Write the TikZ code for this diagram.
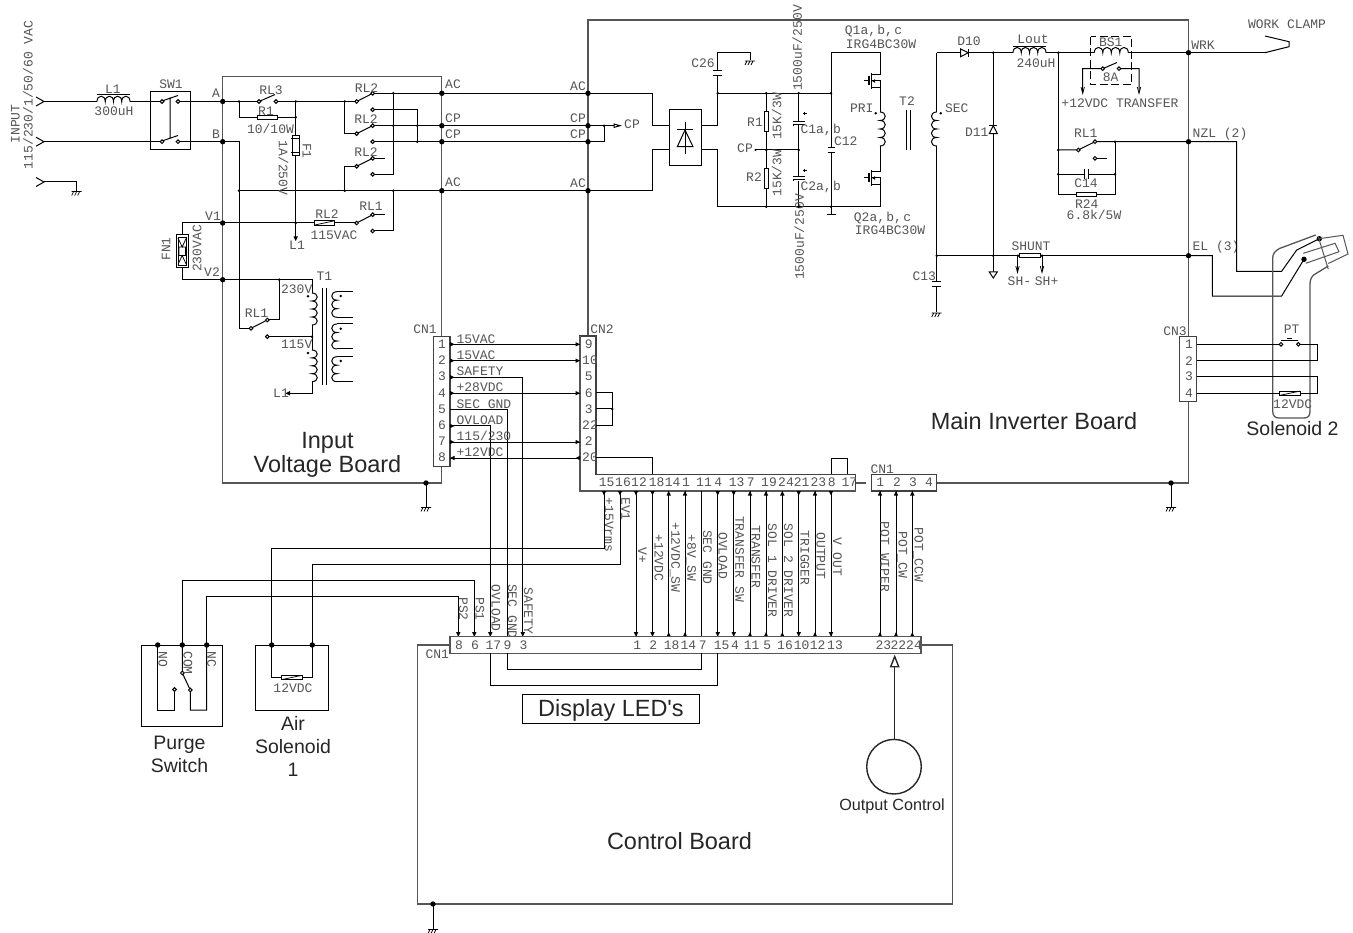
\documentclass[tikz,border=0pt]{standalone}
\usepackage{fontspec}
\setmainfont{Liberation Sans}
\newfontfamily\schfont{Liberation Mono}
\newfontfamily\plainsans{Liberation Sans}
\definecolor{frm}{HTML}{555555}
\definecolor{txt}{HTML}{555555}
\newcounter{lb}
\tikzset{
 wire/.style={line width=1pt,black},
 frame/.style={line width=1.3pt,frm},
 thin wire/.style={line width=0.75pt,black},
 sch/.style={inner sep=0pt,outer sep=0pt,text=txt,font=\schfont\fontsize{13}{13}\selectfont},
 big/.style={inner sep=0pt,outer sep=0pt,text=black!85,align=center,font=\plainsans\fontsize{23.5}{24.5}\selectfont},
 mid/.style={inner sep=0pt,outer sep=0pt,text=black!85,align=center,font=\plainsans\fontsize{19.5}{23}\selectfont},
 cnbox/.style={line width=1.1pt,draw=black!75,fill=white},
}
\newcommand\cm{,\kern-6.5pt\ }
\newcommand\lbl[3][]{\stepcounter{lb}\node[sch,#1] (lab\thelb) at (#2) {#3};}
\newcommand\bigt[3][big]{\stepcounter{lb}\node[#1] (lab\thelb) at (#2) {#3};}
\newcommand\jb[2]{\fill (#1,#2) circle[radius=2.7pt];}
\newcommand\js[2]{\fill (#1,#2) circle[radius=1.4pt];}
\newcommand\ct[2]{\draw[wire,fill=white] (#1,#2) circle[radius=1.8pt];}
\newcommand\gnd[2]{\draw[thin wire] (#1-5,#2)--(#1+5,#2) (#1-3,#2)--(#1-5,#2+4) (#1,#2)--(#1-2,#2+4) (#1+3,#2)--(#1+1,#2+4);}
\newcommand\ahd[2]{\fill (#1,#2)--(#1-2.2,#2-4.5)--(#1+2.2,#2-4.5)--cycle;}
\newcommand\ahu[2]{\fill (#1,#2)--(#1-2.2,#2+4.5)--(#1+2.2,#2+4.5)--cycle;}
\newcommand\ahr[2]{\fill (#1,#2)--(#1-4.5,#2-2.2)--(#1-4.5,#2+2.2)--cycle;}
\newcommand\ahl[2]{\fill (#1,#2)--(#1+4.5,#2-2.2)--(#1+4.5,#2+2.2)--cycle;}
\newcommand\hcoil[4]{\draw[wire] (#1,#2) foreach \i in {1,...,#3} { .. controls +(0,-7) and +(0,-7) .. ++(#4,0) };}
\newcommand\vcoilr[4]{\draw[wire] (#1,#2) foreach \i in {1,...,#3} { .. controls +(7,0) and +(7,0) .. ++(0,#4) };}
\newcommand\vcoill[4]{\draw[wire] (#1,#2) foreach \i in {1,...,#3} { .. controls +(-7,0) and +(-7,0) .. ++(0,#4) };}
\newcommand\hres[3]{\draw[wire,fill=white] (#1,#3-2.2) rectangle (#2,#3+2.2);}
\newcommand\hsol[3]{\draw[wire,fill=white] (#1,#3-2.2) rectangle (#2,#3+2.2); \draw[thin wire] (#1,#3+2.2)--(#2,#3-2.2);}
\newcommand\vres[3]{\draw[wire,fill=white] (#1-2.2,#2) rectangle (#1+2.2,#3);}
\newcommand\sigd[1]{\draw[wire] (#1,491)--(#1,636.7); \ahd{#1}{495.5} \ahd{#1}{636.7}}
\newcommand\sigu[1]{\draw[wire] (#1,491)--(#1,636.7); \ahu{#1}{491} \ahu{#1}{632.2}}
\newcommand\plug[2]{\draw[wire] (#1-8,#2-4.5)--(#1,#2)--(#1-8,#2+4.5);}
\newcommand\mosfet[4]{%
 \draw[wire] (864.3,#1)--(869,#1) (871.7,#2)--(880,#2) (871.7,#3)--(880,#3) (871.7,#1)--(880,#1)--(880,#3);
 \draw[line width=1.2pt] (869,#1-4.5)--(869,#1+4.5) (871.7,#1-8)--(871.7,#1+8);
 \fill (872,#1)--(875,#1-1.8)--(875,#1+1.8)--cycle;}
\begin{document}
\begin{tikzpicture}[x=1pt,y=-1pt]
\useasboundingbox (0,0) rectangle (1353,933);
\coordinate (A) at (222.7,101.5);
\coordinate (B) at (222.7,141.7);
\coordinate (V1) at (222.7,223);
\coordinate (V2) at (222.7,279.7);
\coordinate (ACt) at (652.7,93.3);
\coordinate (ACb) at (652.7,190.7);
\coordinate (WRK) at (1188.5,52.7);
\coordinate (NZL) at (1188.5,141.7);
\coordinate (EL) at (1188.5,255.7);

%% --- board frames
\draw[frame] (441.8,336)--(441.8,76.5)--(222.7,76.5)--(222.7,483)--(441.8,483)--(441.8,466);
\draw[frame] (588,336)--(588,20)--(1188.5,20)--(1188.5,336);
\draw[frame] (1188.5,401)--(1188.5,483)--(936,483);
\draw[frame] (450,645)--(417.3,645)--(417.3,904)--(952.7,904)--(952.7,645)--(921,645);
\draw[frame] (855.7,483)--(866,483);

%% --- input
\plug{44}{101.5} \plug{44}{141.7} \plug{44}{182}
\draw[wire] (44,101.5)--(97,101.5) (130,101.5)--(162,101.5) (178,101.5)--(A);
\draw[wire] (44,141.7)--(162,141.7) (178,141.7)--(B);
\draw[wire] (44,182)--(76.7,182)--(76.7,191);
\gnd{76.7}{191.5}
\hcoil{97}{101.5}{4}{8.25}
\draw[wire] (97,95)--(130,95);
\lbl{113,89}{L1} \lbl{114,111}{300uH}
\draw[wire] (150,91.5) rectangle (190.3,150);
\lbl{171,84}{SW1}
\draw[wire] (162,101)--(178,95.5) (162,141)--(178,135.5) (170,97.5)--(170,138);
\ct{162}{101.5} \ct{178}{101.5} \ct{162}{141.7} \ct{178}{141.7}
\lbl[rotate=90]{15.5,124}{INPUT}
\lbl[rotate=90]{28,95}{115/230/1/50/60 VAC}

%% --- input voltage board
\draw[wire] (A)--(259,101.5) (276,101.5)--(356.7,101.5);
\draw[wire] (239,101.5)--(239,117.3)--(295.7,117.3);
\draw[wire] (295.7,101.5)--(295.7,240);
\ahd{295.7}{241}
\draw[wire] (B)--(239,141.7)--(239,328.3)--(251,328.3);
\draw[wire] (239,190.7)--(ACb);
\draw[wire] (344.7,101.5)--(344.7,133.7)--(356.7,133.7);
\draw[wire] (344.7,190.7)--(344.7,166.3)--(356.7,166.3);
\draw[wire] (372.7,93.3)--(ACt);
\draw[wire] (372.7,125.7)--(611.7,125.7);
\draw[wire] (372.7,141.7)--(604,141.7)--(604,125.7);
\draw[wire] (372.7,109.7)--(417.3,109.7)--(417.3,141.7);
\draw[wire] (393.3,93.3)--(393.3,174.3)--(372.7,174.3);
\draw[wire] (372.7,158.3)--(385,158.3) (372.7,214.7)--(385,214.7);
\draw[wire] (V1)--(356.7,223);
\draw[wire] (372.7,231)--(393.3,231)--(393.3,190.7);
\draw[wire] (356.7,101.5)--(372.7,93.3) (356.7,133.7)--(372.7,125.7) (356.7,166.3)--(372.7,158.3) (356.7,223)--(372.7,214.7);
\draw[wire] (259,101.5)--(275,94.5);
\hres{257.3}{277.7}{117.3}
\hsol{314}{334.3}{223}
\draw[wire,fill=white] (292,136) rectangle (299.5,156);
\draw[wire] (291,139)--(300,139) (291,153)--(300,153);
\foreach \x/\y in {259/101.5,276/101.5,356.7/101.5,372.7/93.3,372.7/109.7,356.7/133.7,372.7/125.7,372.7/141.7,356.7/166.3,372.7/158.3,372.7/174.3,356.7/223,372.7/214.7,372.7/231}{\ct{\x}{\y}}
\foreach \x/\y in {239/101.5,295.7/101.5,344.7/101.5,295.7/117.3,393.3/93.3,393.3/125.7,417.3/125.7,417.3/141.7,239/190.7,344.7/190.7,393.3/190.7,295.7/223}{\js{\x}{\y}}
\foreach \x/\y in {222.7/101.5,222.7/141.7,222.7/223,222.7/279.7,441.8/93.3,441.8/125.7,441.8/141.7,441.8/190.7,588/93.3,588/125.7,588/141.7,588/190.7,426/483,1171/483}{\jb{\x}{\y}}
\lbl{216,93}{A} \lbl{216,134}{B} \lbl{213,216}{V1} \lbl{212,272}{V2}
\lbl{271,90}{RL3} \lbl{266,111}{R1} \lbl{270.5,129}{10/10W}
\lbl{366.5,88}{RL2} \lbl{366,119}{RL2} \lbl{366,152}{RL2}
\lbl{327,214}{RL2} \lbl{334,235}{115VAC} \lbl{371,206}{RL1}
\lbl{297,245}{L1}
\lbl[rotate=-90]{307,151}{F1}
\lbl[rotate=-90]{283.5,168}{1A/250V}
\foreach \y/\t in {84.7/AC,118/CP,134/CP,182/AC}{\lbl{453,\y}{\t}}
\foreach \y/\t in {86/AC,118/CP,134/CP,183/AC}{\lbl{578,\y}{\t}}
\draw[wire] (ACt)--(652.7,125.7)--(669,125.7);
\draw[wire] (ACb)--(652.7,149.7)--(669,149.7);
\js{604}{125.7}
\draw[wire] (611.7,125.7)--(618,125.7);
\draw[wire,fill=white] (620,125.7)--(614,124)--(614,127.4)--cycle;
\lbl{632,124}{CP}

% fan
\draw[wire] (V1)--(182.7,223)--(182.7,235) (182.7,267.7)--(182.7,279.7)--(V2);
\draw[wire,fill=white] (176,235) rectangle (188.3,267.7);
\draw[thin wire] (178,237) rectangle (186.3,265.7);
\draw[thin wire] (178,238)--(182.2,247)--(186.3,238) (178,264.5)--(182.2,255.5)--(186.3,264.5) (179,247) rectangle (185.5,255.5);
\lbl[rotate=90]{166,249}{FN1}
\lbl[rotate=90]{197,248.5}{230VAC}

% T1
\draw[wire] (V2)--(312,279.7)--(312,293);
\draw[wire] (279.3,279.7)--(279.3,320)--(267.3,320);
\draw[wire] (251,328.3)--(267.3,320);
\draw[wire] (267.3,336.7)--(312,336.7);
\vcoilr{312}{293}{4}{8}
\draw[wire] (312,325)--(312,350);
\vcoilr{312}{350}{4}{7.9}
\draw[wire] (312,381.6)--(312,393.3)--(290,393.3);
\ahl{285.5}{393.3}
\js{279.3}{279.7} \js{312}{336.7}
\js{308}{296.3} \js{308}{353}
\ct{251}{328.3} \ct{267.3}{320} \ct{267.3}{336.7}
\draw[wire] (322.3,288.3)--(322.3,385) (326,288.3)--(326,385);
\foreach \t/\b in {291.7/317.3,324/349,356.7/381.7}{
 \draw[wire] (352.7,\t)--(337,\t);
 \draw[wire] (352.7,\b)--(337,\b);
 \draw[wire] (337,\t) .. controls +(-7,0) and +(-7,0) .. ++(0,8.5) .. controls +(-7,0) and +(-7,0) .. ++(0,8.5) .. controls +(-7,0) and +(-7,0) .. (337,\b);
}
\js{340.7}{296} \js{340.7}{328.7} \js{340.7}{361}
\lbl{324.3,276}{T1} \lbl{296.7,289.3}{230V} \lbl{296.7,344}{115V} \lbl{256.5,313}{RL1} \lbl{281,393}{L1}
\draw[wire] (426,483)--(426,507);
\gnd{426}{507.5}
\bigt{327.5,455}{Input\\Voltage Board}

%% --- inverter primary
\draw[wire,fill=white] (669,109.3) rectangle (701.3,166);
\draw[wire] (685,122)--(685,154) (677.3,130)--(693,130);
\draw[wire] (685,130)--(677.3,146.7)--(693,146.7)--cycle;
\draw[wire] (701.3,125.7)--(717.7,125.7)--(717.7,93.3);
\draw[wire] (701.3,149.7)--(717.7,149.7)--(717.7,206.7)--(880,206.7);
\draw[wire] (717.7,93.3)--(831,93.3);
\draw[wire] (717.7,93.3)--(717.7,75.3) (717.7,70.7)--(717.7,52.3)--(750,52.3)--(750,60.5);
\draw[wire] (713.3,70.7)--(722,70.7) (713.3,75.3)--(722,75.3);
\gnd{750}{61}
\lbl{703,63}{C26}
% R1 R2
\draw[wire] (766.3,93.3)--(766.3,206.7);
\vres{766.3}{111.7}{131.7}
\vres{766.3}{168.3}{188.3}
\draw[wire] (755.5,150)--(798.7,150);
\fill (755.5,150) circle[radius=1.2pt];
\lbl{745,148}{CP} \lbl{755,122}{R1} \lbl{754,177}{R2}
\lbl[rotate=90]{776.7,116.5}{15K/3W} \lbl[rotate=90]{776.7,173}{15K/3W}
% C1 C2
\draw[wire] (798.7,93.3)--(798.7,122) (798.7,125)--(798.7,176.7) (798.7,180.7)--(798.7,206.7);
\draw[wire] (793.3,122)--(805,122) (793.3,126)--(793.3,124.3)--(805,124.3);
\draw[wire] (793.3,176.7)--(805,176.7) (793.3,181)--(793.3,179.7)--(805,179.7);
\draw[thin wire] (803,113.5)--(806.5,113.5) (804.7,112)--(804.7,115) (803,170.5)--(806.5,170.5) (804.7,169)--(804.7,172);
\lbl{820.7,130}{C1a\cm b} \lbl{820.7,187}{C2a\cm b}
\lbl[rotate=90]{797.3,48}{1500uF/250V}
\lbl[rotate=90]{799.3,237}{1500uF/250V}
% C12
\draw[wire] (831,52.3)--(831,147.3) (831,152.7)--(831,215);
\draw[wire] (827.5,147.3)--(835,147.3) (827.5,152.7)--(835,152.7) (827,215)--(835.5,215);
\draw[wire] (831,52.3)--(880,52.3)--(880,75);
\lbl{845.7,141}{C12}
\mosfet{81}{75}{87.5}{}
\mosfet{178}{172}{184.5}{}
\draw[wire] (880,87.5)--(880,112);
\vcoilr{880}{112}{4}{8.5}
\draw[wire] (880,146)--(880,172);
\draw[wire] (880,184.5)--(880,206.7);
\js{875.7}{113.3}
\foreach \x/\y in {717.7/93.3,766.3/93.3,798.7/93.3,831/93.3,766.3/150,798.7/150,766.3/206.7,798.7/206.7,831/206.7}{\js{\x}{\y}}
\lbl{873.5,31}{Q1a\cm b\cm c} \lbl{881,44}{IRG4BC30W}
\lbl{882.5,218}{Q2a\cm b\cm c} \lbl{890,230}{IRG4BC30W}
\lbl{861.7,108.7}{PRI}
\lbl{907,101}{T2}
\draw[wire] (906,110)--(906,150) (910,110)--(910,150);

%% --- secondary
\draw[wire] (936.7,52.7)--(960.7,52.7) (968.3,52.7)--(1013,52.7) (1046,52.7)--(1094.3,52.7) (1128.3,52.7)--(1265,52.7);
\hcoil{1013}{52.7}{4}{8.25}
\draw[wire] (1013,46.7)--(1046,46.7);
\hcoil{1094.3}{52.7}{4}{8.5}
\draw[wire,fill=white] (960.7,49)--(960.7,56.7)--(968.3,52.7)--cycle;
\draw[wire] (968.3,48.7)--(968.3,56.9);
\draw[wire] (936.7,52.7)--(936.7,112);
\vcoill{936.7}{112}{4}{8.5}
\draw[wire] (936.7,146)--(936.7,281.7) (936.7,286.3)--(936.7,312);
\draw[wire] (932.3,281.7)--(941,281.7) (932.3,286.3)--(941,286.3);
\gnd{936.7}{313}
\js{940.7}{113.3}
\draw[wire] (993.3,52.7)--(993.3,272);
\draw[wire] (989.3,125.7)--(997.3,125.7);
\draw[wire,fill=white] (993.3,125.7)--(989.3,133.7)--(997.3,133.7)--cycle;
\draw[wire,fill=white] (989.3,272)--(997.3,272)--(993.3,278)--cycle;
\draw[wire] (936.7,255.7)--(1018,255.7) (1042,255.7)--(EL);
\hres{1019.3}{1040}{255.7}
\draw[wire] (1017.5,255.7)--(1017.5,270) (1042,255.7)--(1042,270);
\draw[thin wire] (1015.8,266)--(1017.5,272.5)--(1019.2,266) (1040.3,266)--(1042,272.5)--(1043.7,266);
\js{936.7}{255.7} \js{993.3}{255.7} \js{1018}{255.7} \js{1042}{255.7}
\js{993.3}{52.7}
\lbl{969,41}{D10} \lbl{1033,39}{Lout} \lbl{1036,63}{240uH} \lbl{1110.7,42.7}{BS1} \lbl{1110.7,77}{8A}
\lbl{1120,103.7}{+12VDC TRANSFER}
\lbl{956.7,108.7}{SEC} \lbl{976.7,132}{D11} \lbl{924.3,276}{C13}
\lbl{1031,246}{SHUNT} \lbl{1033,281}{SH-\kern-4pt\ SH+}
\draw[wire,dash pattern=on 8pt off 3.5pt] (1090.7,36.7) rectangle (1131.3,85);
\draw[wire] (1082.7,91)--(1082.7,68.7)--(1102.7,68.7) (1102.7,68.7)--(1117,62.5) (1119,68.7)--(1139,68.7)--(1139,91);
\draw[thin wire] (1081,87)--(1082.7,93.5)--(1084.4,87) (1137.3,87)--(1139,93.5)--(1140.7,87);
\ct{1102.7}{68.7} \ct{1119}{68.7}
\draw[wire] (1058.3,52.7)--(1058.3,194.7)--(1076,194.7) (1096.7,194.7)--(1115,194.7)--(1115,141.7);
\hres{1076}{1096.7}{194.7}
\draw[wire] (1058.3,150)--(1078.3,150)--(1095,141.7) (1095,141.7)--(NZL);
\draw[wire] (1095,158.3)--(1106.7,158.3);
\draw[wire] (1058.3,174.3)--(1084.3,174.3) (1088.3,174.3)--(1115,174.3);
\draw[wire] (1084.3,169.5)--(1084.3,179) (1088.3,169.5)--(1088.3,179);
\ct{1078.3}{150} \ct{1095}{141.7} \ct{1095}{158.3}
\js{1058.3}{52.7} \js{1058.3}{150} \js{1058.3}{174.3} \js{1115}{141.7} \js{1115}{174.3}
\lbl{1085.7,133}{RL1} \lbl{1086,183}{C14} \lbl{1086.7,204}{R24} \lbl{1094,215}{6.8k/5W}
\lbl{1203,45}{WRK} \lbl{1220,134}{NZL (2)} \lbl{1216,247}{EL (3)}
\lbl{1287,24}{WORK CLAMP}
\draw[wire] (1265,52.7)--(1289,46.7)--(1289,41.7)--(1265,36);
\jb{1188.5}{52.7} \jb{1188.5}{141.7} \jb{1188.5}{255.7}
\draw[wire] (NZL)--(1236.7,141.7)--(1236.7,271.5)--(1281.5,271.5)--(1296.7,250)--(1319.3,238.7);
\draw[wire] (EL)--(1212.3,255.7)--(1212.3,296.2)--(1281.5,296.2)--(1304,259.3);
\jb{1319.3}{238.7} \jb{1304}{259.3}

%% --- torch
\draw[frame] (1315.7,235)--(1280,248.3) .. controls (1275,250.5) and (1272.7,254) .. (1272.7,258)--(1272.7,411) .. controls (1272.7,416) and (1275,418) .. (1279,418)--(1304,418) .. controls (1308,418) and (1310,416) .. (1310,411)--(1310,284) .. controls (1310,279) and (1312,275.5) .. (1316,273.5)--(1328.3,266);
\draw[frame,line width=1pt] (1319.3,238.7)--(1343,235.3)--(1348,254)--(1328.3,263.5);
\draw[frame,line width=1pt] (1318,236)--(1328.3,269.3);
\draw[frame,line width=1pt] (1303.3,253.3)--(1335,243.3)--(1339,251.7)--(1305.7,263.3);

%% --- CN3 and PT
\draw[cnbox] (1179.3,336.7) rectangle (1196.7,401.3);
\foreach \y/\t in {344/1,360.7/2,376.3/3,393/4}{\lbl{1189,\y}{\t}}
\lbl{1175,331}{CN3}
\draw[wire] (1196.7,344.3)--(1281,344.3) (1298.3,344.3)--(1317.3,344.3)--(1317.3,361)--(1196.7,361);
\draw[wire] (1196.7,377)--(1317.3,377)--(1317.3,393.3)--(1300,393.3) (1279,393.3)--(1196.7,393.3);
\draw[wire] (1281,340.5)--(1298.3,340.5);
\draw[line width=1.4pt] (1287,338.8)--(1292.3,338.8);
\ct{1281}{344.3} \ct{1298.3}{344.3}
\hsol{1279}{1300}{393.3}
\lbl{1291.7,329}{PT} \lbl{1292.7,404}{12VDC}
\bigt[mid]{1292.5,429}{Solenoid 2}
\bigt{1034,421}{Main Inverter Board}
\js{1171}{483}
\draw[wire] (1171,483)--(1171,507);
\gnd{1171}{507.5}

%% --- CN1 (left) and CN2
\draw[cnbox] (433.3,336.7) rectangle (450,466.7);
\draw[cnbox] (580,336)--(596,336)--(596,474.3)--(855.7,474.3)--(855.7,491)--(580,491)--cycle;
\draw[frame] (580,336)--(580,491)--(855.7,491);
\draw[cnbox] (871.7,474.3) rectangle (936.7,491);
\lbl{425,329}{CN1} \lbl{602,329}{CN2}
\lbl{882.3,469}{CN1}
\foreach \y/\t in {344/1,360/2,376.3/3,393/4,409/5,425.7/6,441.5/7,457.7/8}{\lbl{442,\y}{\t}}
\foreach \y/\t in {344/9,376.3/5,393/6,409/3,441.5/2}{\lbl{588.7,\y}{\t}}
\foreach \y/\t in {360/10,425.5/22,457.5/20}{\lbl{590,\y}{\t}}
\foreach \y in {344.3,360.7,393.2,442}{\draw[wire] (450,\y)--(580,\y); \ahr{454.5}{\y} \ahr{580}{\y}}
\draw[wire] (450,458)--(580,458); \ahl{450}{458} \ahl{575.5}{458}
\draw[wire] (450,377.3)--(522.7,377.3)--(522.7,636.7); \ahr{454.5}{377.3}
\draw[wire] (450,409.3)--(507,409.3)--(507,636.7);
\draw[wire] (450,426)--(490.3,426)--(490.3,636.7); \ahr{454.5}{426}
\ahd{522.7}{636.7} \ahd{490.3}{636.7}
\lbl{476,339}{15VAC} \lbl{476,355}{15VAC} \lbl{480,371}{SAFETY} \lbl{480,387}{+28VDC}
\lbl{484,404}{SEC GND} \lbl{480,420}{OVLOAD} \lbl{484,436}{115/230} \lbl{480,452}{+12VDC}
\draw[wire] (596,393)--(612.3,393)--(612.3,426)--(596,426) (596,409)--(612.3,409);
\js{612.3}{409}
\draw[wire] (596,457.5)--(652.7,457.5)--(652.7,474.3);
\draw[wire] (831,474.3)--(831,458.3)--(847.3,458.3)--(847.3,474.3);
\foreach \x/\t in {606.7/15,623/16,639/12,656.7/18,672.7/14,686/1,704/11,718.3/4,736.7/13,750.7/7,769/19,786/24,801.7/21,818.3/23,831.7/8,849.3/17,880.3/1,897/2,913/3,929/4}{\lbl{\x,482.5}{\t}}

%% --- signals
\foreach \x in {636,652.5,717.7,733.7,798.7,831}{\sigd{\x}}
\foreach \x in {668.7,685,750,766,782.3,815}{\sigu{\x}}
\draw[wire] (701,491)--(701,636.7);
\foreach \x in {880,896,912.3}{\sigu{\x}}
\foreach \x/\y/\t in {642.3/555.7/V+,659/558/+12VDC,675/557.5/+12VDC\_SW,691/558/+8V\_SW,707.3/557.5/SEC GND,723/555.7/OVLOAD,739.7/559/TRANSFER SW,756/557/TRANSFER,772.3/570.7/SOL 1 DRIVER,788.3/570.7/SOL 2 DRIVER,805/558/TRIGGER,821/556/OUTPUT,836.7/556.7/V\_OUT,885/557/POT WIPER,902.3/555/POT\_CW,918.3/555/POT\_CCW,609/525/+15Vrms,625.7/509/EV1,463.3/609/PS2,480/609/PS1,496/608.3/OVLOAD,512.3/611.5/SEC GND,528.3/611/SAFETY}{\lbl[rotate=-90]{\x,\y}{\t}}

%% --- control connector
\draw[wire] (604,491)--(604,548)--(271.7,548)--(271.7,645);
\draw[wire] (620,491)--(620,564)--(312.3,564)--(312.3,645);
\ahd{604}{495.5} \ahd{620}{495.5}
\draw[wire] (182.3,645)--(182.3,580)--(474.3,580)--(474.3,636.7); \ahd{474.3}{636.7}
\draw[wire] (206.7,645)--(206.7,596)--(458.3,596)--(458.3,636.7); \ahd{458.3}{636.7}
\draw[line width=1.2pt,draw=frm,fill=white] (450,636.7) rectangle (921,653.3);
\foreach \x/\t in {459/8,475/6,493.3/17,507.6/9,523.6/3,637.3/1,653.3/2,671.7/18,688.3/14,702.7/7,721.7/15,735/4,751.7/11,767.3/5,785/16,801.7/10,817.7/12,835/13,883.3/23,898.3/22,914/24}{\lbl{\x,644.8}{\t}}
\lbl{437.3,654}{CN1}
\draw[wire] (490.3,653.3)--(490.3,685.7)--(717.7,685.7)--(717.7,653.3);
\draw[wire] (507,653.3)--(507,669)--(701,669)--(701,653.3);
\draw[wire,fill=white] (522.3,694.3) rectangle (699.5,723);
\bigt{611,710.5}{Display LED's}
\bigt{679.5,841}{Control Board}

\draw[line width=1.4pt,black!85] (894.3,739.4)--(894.3,667);
\draw[line width=1.4pt,black!85,fill=white] (894.7,656.5)--(890.7,666.7)--(898.7,666.7)--cycle;
\draw[line width=1.4pt,black!85] (894,766.7) circle[radius=27.3pt];
\stepcounter{lb}\node[inner sep=0pt,text=black!85,font=\plainsans\fontsize{16.2}{18}\selectfont] (lab\thelb) at (892,806) {Output Control};
\draw[wire] (433,904)--(433,929);
\jb{433}{904}
\gnd{433}{929.5}

%% --- purge switch
\draw[wire] (141.7,645) rectangle (222.7,726);
\draw[wire] (157.7,645)--(157.7,710)--(174.5,710)--(174.5,691);
\draw[wire] (182.3,645)--(182.3,673)--(190.3,690)--(190.3,710)--(206.7,710)--(206.7,645);
\ct{182.3}{673} \ct{190.3}{690} \ct{174.5}{689.5}
\jb{157.7}{645} \jb{182.3}{645} \jb{206.7}{645}
\lbl[rotate=-90]{163,659}{NO} \lbl[rotate=-90]{188,663}{COM} \lbl[rotate=-90]{211.7,659}{NC}
\bigt[mid]{179.5,754.5}{Purge\\Switch}
%% --- air solenoid
\draw[wire] (255.3,645) rectangle (328.7,710);
\draw[wire] (271.7,645)--(271.7,677.5)--(281.3,677.5) (302,677.5)--(312.3,677.5)--(312.3,645);
\hsol{281.3}{302}{677.5}
\jb{271.7}{645} \jb{312.3}{645}
\lbl{293,688}{12VDC}
\bigt[mid]{293,746.5}{Air\\Solenoid\\1}
\end{tikzpicture}
\end{document}
